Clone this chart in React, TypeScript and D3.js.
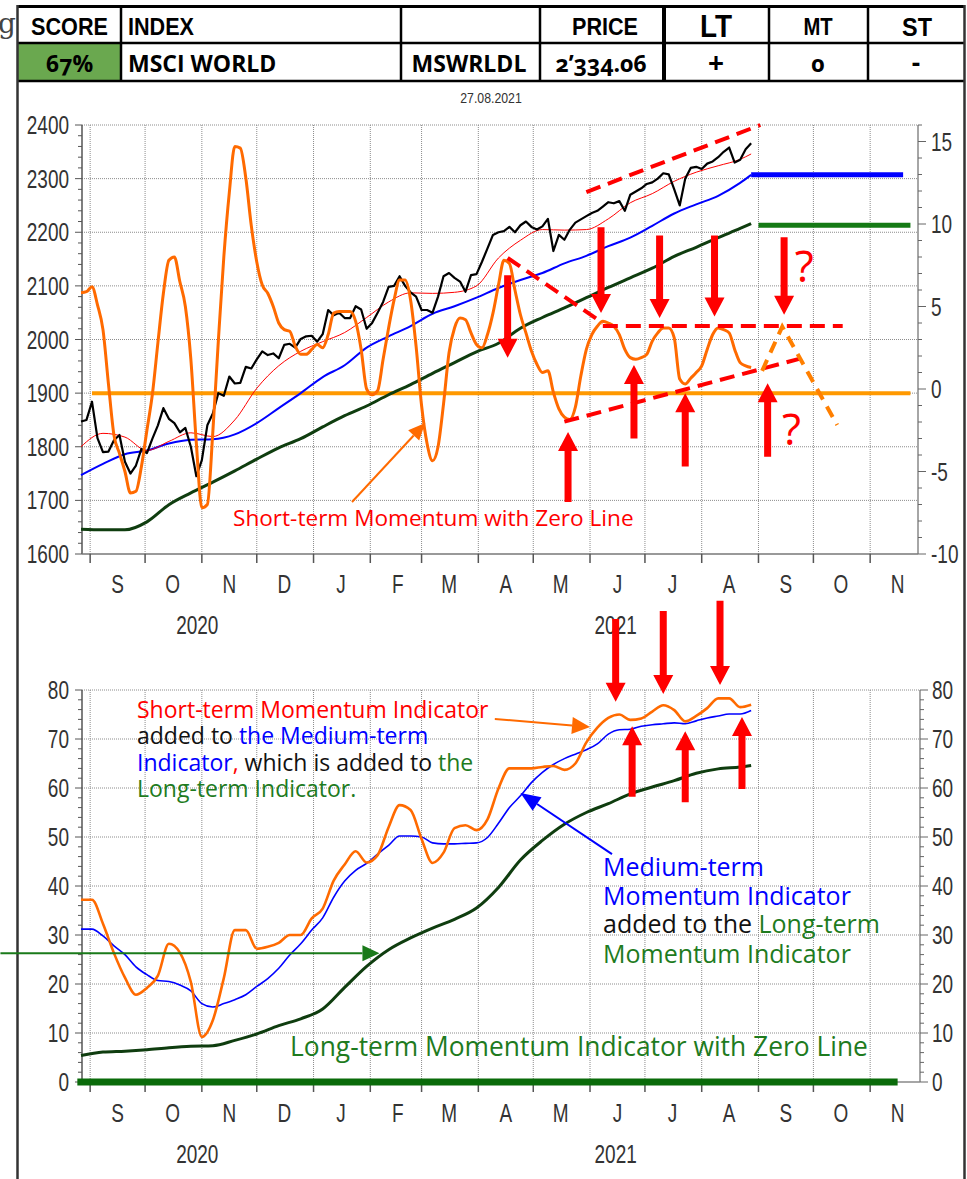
import React from "react";
import * as d3 from "d3";

const parseDay = d3.timeParse("%Y-%m-%d");
const day = (s: string) => parseDay(s) as Date;

const START = "2020-08-27";
const END = "2021-11-27";

// MSCI World price, sampled every 3 days from 27.08.2020
const priceValues = [
  1847, 1850, 1884, 1816, 1790, 1791, 1812, 1822, 1772, 1750,
  1765, 1796, 1788, 1815, 1840, 1872, 1852, 1844, 1827, 1835,
  1800, 1745, 1775, 1840, 1862, 1900, 1895, 1931, 1918, 1919,
  1949, 1946, 1963, 1978, 1971, 1974, 1965, 1990, 1992, 1985,
  2001, 2006, 2007, 1996, 2010, 2055, 2045, 2050, 2040, 2040,
  2062, 2056, 2020, 2031, 2050, 2070, 2098, 2100, 2118, 2100,
  2088, 2080, 2055, 2055, 2050, 2080, 2118, 2124, 2115, 2108,
  2089, 2120, 2122, 2145, 2170, 2195, 2200, 2202, 2210, 2200,
  2213, 2220, 2210, 2205, 2211, 2225, 2165, 2195, 2186, 2205,
  2218, 2224, 2230, 2236, 2240, 2248, 2256, 2254, 2258, 2240,
  2270, 2276, 2282, 2290, 2293, 2300, 2310, 2308, 2280, 2250,
  2300, 2320, 2322, 2318, 2328, 2332, 2340, 2350, 2358, 2330,
  2335, 2355, 2366,
];

// Short-term momentum (right axis), same 3-day sampling
const shortMomentum = [
  5.84, 5.9, 6.2, 5.1, 3.6, 0.3, -2.8, -3.9, -5.0, -6.3,
  -6.2, -4.7, -2.5, -0.3, 2.8, 5.8, 7.8, 8.0, 6.5, 5.0,
  1.8, -3.3, -7.2, -7.0, -2.6, 2.9, 8.0, 11.9, 14.7, 14.6,
  12.8, 9.9, 7.7, 6.3, 5.8, 5.0, 4.0, 3.6, 3.5, 2.6,
  2.1, 2.1, 2.4, 2.7, 2.5, 3.3, 4.6, 4.7, 4.7, 4.7,
  4.1, 2.4, 0.0, -0.35, -0.1, 1.8, 3.7, 5.4, 6.6, 6.6,
  5.4, 2.6, -1.0, -3.3, -4.35, -3.5, -0.9, 2.2, 3.7, 4.3,
  4.2, 3.4, 2.7, 2.5, 3.3, 4.6, 6.3, 7.8, 7.6, 6.0,
  4.5, 3.4, 2.3, 1.5, 1.0, 1.1, -0.2, -1.2, -1.7, -1.85,
  -1.1, 0.8, 2.4, 3.3, 3.8, 4.1, 4.0, 3.8, 3.3, 2.4,
  1.9, 1.8, 1.9, 2.1, 2.9, 3.4, 3.7, 3.7, 3.1, 0.6,
  0.3, 0.65, 1.0, 1.4, 2.4, 3.3, 3.7, 3.6, 3.4, 2.4,
  1.6, 1.4, 1.3,
];

// day offsets from 27.08.2020 for the moving averages / long-term indicator
const maOffsets = [0, 12, 24, 36, 48, 60, 72, 84, 96, 108, 120, 132, 144, 156, 168, 180,
  192, 204, 216, 228, 240, 252, 264, 276, 288, 300, 312, 324, 336, 348, 360, 366];
const maShort = [1800, 1825, 1818, 1793, 1810, 1826, 1819, 1850, 1909, 1951, 1978, 1996, 2013, 2041, 2070, 2087,
  2086, 2088, 2100, 2152, 2185, 2205, 2204, 2205, 2225, 2255, 2272, 2295, 2312, 2324, 2336, 2346];
const maMedium = [1747, 1768, 1786, 1793, 1806, 1813, 1814, 1823, 1844, 1872, 1900, 1930, 1952, 1985, 2006, 2025,
  2048, 2062, 2078, 2096, 2111, 2124, 2142, 2156, 2174, 2190, 2212, 2235, 2252, 2268, 2292, 2307];
const maLong = [1646, 1645, 1645, 1660, 1692, 1714, 1734, 1755, 1777, 1798, 1815, 1837, 1858, 1876, 1897, 1916,
  1937, 1957, 1977, 1993, 2021, 2041, 2059, 2078, 2097, 2115, 2133, 2155, 2172, 2190, 2207, 2216];

// bottom panel: indicators sampled every 6 days
const stackOrange = [
  37.2, 37.2, 32.3, 26.3, 21.3, 17.8, 19.2, 21.7, 28.2, 26.4,
  20.4, 9.2, 12.6, 21.2, 31.0, 31.0, 27.2, 27.6, 28.4, 30.0,
  30.0, 33.4, 35.4, 41.1, 44.4, 47.1, 44.8, 46.3, 52.0, 56.5,
  55.5, 49.6, 44.7, 46.8, 51.8, 52.4, 51.4, 53.6, 59.9, 64.0,
  64.0, 64.0, 64.3, 64.5, 63.7, 65.0, 69.3, 72.3, 74.3, 75.0,
  73.9, 74.2, 75.6, 76.9, 75.9, 73.6, 74.7, 76.3, 78.3, 78.3,
  76.5, 77.0,
];
const stackBlue = [
  31.2, 31.2, 29.8, 27.8, 26.0, 23.5, 21.9, 20.7, 20.5, 19.8,
  18.6, 16.0, 15.3, 16.0, 16.8, 17.8, 19.5, 21.1, 23.2, 25.9,
  28.2, 31.0, 33.5, 37.7, 41.0, 43.2, 44.6, 46.5, 48.3, 50.2,
  50.2, 50.0, 48.8, 48.6, 48.6, 48.7, 48.8, 49.9, 52.8, 56.0,
  58.4, 61.1, 63.2, 64.8, 66.0, 66.9, 67.8, 69.0, 71.0, 71.9,
  72.0, 72.6, 72.9, 73.1, 73.3, 73.1, 73.7, 74.3, 74.7, 75.1,
  75.1, 75.8,
];
const longTermIndicator = [5.4, 6.1, 6.3, 6.6, 7.0, 7.3, 7.4, 8.5, 9.8, 11.5, 12.9, 14.9, 19.3, 23.6, 27.0, 29.4,
  31.4, 33.2, 35.5, 39.7, 45.3, 49.3, 52.6, 55.0, 56.8, 58.8, 60.2, 61.5, 63.0, 63.9, 64.3, 64.6];

const monthLetters = ["S", "O", "N", "D", "J", "F", "M", "A", "M", "J", "J", "A", "S", "O", "N"];
const yearLabels = ["2020", "2021"];
const priceTicks = [1600, 1700, 1800, 1900, 2000, 2100, 2200, 2300, 2400];
const momentumTicks = [-10, -5, 0, 5, 10, 15];
const bottomTicks = [0, 10, 20, 30, 40, 50, 60, 70, 80];

// annotations (date, value from, value to)
const topDownArrows: [string, number, number][] = [
  ["2021-04-17", 6.9, 1.9], ["2021-06-07", 9.8, 4.6], ["2021-07-09", 9.3, 4.3],
  ["2021-08-08", 9.3, 4.4], ["2021-09-15", 9.2, 4.5],
];
const topUpArrows: [string, number, number][] = [
  ["2021-05-20", -6.85, -2.6], ["2021-06-25", -3.0, 1.45], ["2021-07-23", -4.7, -0.25], ["2021-09-06", -4.1, 0.35],
];
const bottomDownArrows: [string, number, number][] = [
  ["2021-06-15", 94.5, 77.6], ["2021-07-11", 96.1, 79.2], ["2021-08-11", 98.2, 81.0],
];
const bottomUpArrows: [string, number, number][] = [
  ["2021-06-24", 58.2, 72.6], ["2021-07-23", 57.1, 71.6], ["2021-08-23", 59.8, 74.5],
];

const SANS = "'Liberation Sans', Arial, sans-serif";
const HUMAN = "'Open Sans', 'Noto Sans', sans-serif";
const RED = "#ff0000";
const BLUE = "#0000ff";
const GREEN_TXT = "#1e7b1e";
const ORANGE = "#ff6a00";

function blockArrow(x: number, yTail: number, yTip: number, shaft = 7, headW = 20, headL = 19) {
  const dir = Math.sign(yTip - yTail);
  const hb = yTip - dir * headL;
  return `M${x - shaft / 2},${yTail}L${x + shaft / 2},${yTail}L${x + shaft / 2},${hb}L${x + headW / 2},${hb}L${x},${yTip}L${x - headW / 2},${hb}L${x - shaft / 2},${hb}Z`;
}

function LineArrow({ x1, y1, x2, y2, color, width = 2, headL = 18, headW = 15 }: any) {
  const a = Math.atan2(y2 - y1, x2 - x1);
  const bx = x2 - headL * Math.cos(a);
  const by = y2 - headL * Math.sin(a);
  const px = (headW / 2) * Math.sin(a);
  const py = (headW / 2) * Math.cos(a);
  return (
    <g>
      <line x1={x1} y1={y1} x2={bx} y2={by} stroke={color} strokeWidth={width} />
      <path d={`M${x2},${y2}L${bx + px},${by - py}L${bx - px},${by + py}Z`} fill={color} />
    </g>
  );
}

// condensed axis text (horizontally compressed sans)
function NText({ x, y, anchor = "middle", size = 25, sx = 0.76, dy = "0", fill = "#333", children }: any) {
  return (
    <text
      transform={`translate(${x},${y}) scale(${sx},1)`}
      dy={dy}
      textAnchor={anchor}
      fontFamily={SANS}
      fontSize={size}
      fill={fill}
    >
      {children}
    </text>
  );
}

export default function App() {
  const start = day(START);
  const end = day(END);
  const x = d3.scaleTime().domain([start, end]).range([81, 81 + 457 * 1.831]);
  const yP = d3.scaleLinear().domain([1600, 2400]).range([554, 125]);
  const yM = d3.scaleLinear().domain([-10, 16]).range([554, 125]);
  const yB = d3.scaleLinear().domain([0, 80]).range([1082, 690]);

  const TL = 82, TR = 918, TT = 125, TB = 554;
  const BL = 82, BR = 920, BT = 690, BB = 1082;

  const priceDates = priceValues.map((_, i) => d3.timeDay.offset(start, 3 * i));
  const maDates = maOffsets.map((o) => d3.timeDay.offset(start, o));
  const bDates = stackOrange.map((_, i) => d3.timeDay.offset(start, 6 * i));

  const lineP = d3.line<[Date, number]>().x((d) => x(d[0])).y((d) => yP(d[1]));
  const lineMA = d3.line<[Date, number]>().x((d) => x(d[0])).y((d) => yP(d[1])).curve(d3.curveMonotoneX);
  const lineM = d3.line<[Date, number]>().x((d) => x(d[0])).y((d) => yM(d[1])).curve(d3.curveMonotoneX);
  const lineB = d3.line<[Date, number]>().x((d) => x(d[0])).y((d) => yB(d[1])).curve(d3.curveMonotoneX);
  const lineMlin = d3.line<[Date, number]>().x((d) => x(d[0])).y((d) => yM(d[1]));

  const zip = (ds: Date[], vs: number[]) => vs.map((v, i) => [ds[i], v] as [Date, number]);

  const months = d3.timeMonth.range(day("2020-09-01"), day("2021-12-01"));
  const monthMid = months.map((m) => x(d3.timeDay.offset(m, 15)));
  const yearMid = [
    (x(start) + x(day("2021-01-01"))) / 2,
    (x(day("2021-01-01")) + x(end)) / 2,
  ];

  const grid = { stroke: "#8c8c8c", strokeWidth: 1, strokeDasharray: "1,1" };

  // header columns
  const cols = [18, 121, 401, 540, 664, 769, 868, 964];

  const topDash = { stroke: RED, strokeWidth: 4, strokeDasharray: "15,8", fill: "none" };

  return (
    <svg width={967} height={1179} style={{ position: "absolute", left: 0, top: 0, background: "#fff" }}>
      <rect x={0} y={0} width={967} height={1179} fill="#fff" />
      {/* cut-off letter at far left */}
      <text x={-2} y={33} fontFamily="'DejaVu Serif', serif" fontSize={28} fill="#444">g</text>

      {/* header table */}
      <rect x={cols[0]} y={43} width={cols[1] - cols[0]} height={38} fill="#6aa84f" />
      <line x1={cols[0]} x2={cols[7]} y1={6.5} y2={6.5} stroke="#000" strokeWidth={3} />
      <line x1={cols[0]} x2={cols[7]} y1={43} y2={43} stroke="#000" strokeWidth={2.5} />
      <line x1={cols[0]} x2={cols[7]} y1={81} y2={81} stroke="#000" strokeWidth={2.5} />
      {cols.slice(1, 7).map((c, i) => (
        <line key={i} x1={c} x2={c} y1={5} y2={82} stroke="#000" strokeWidth={i === 3 ? 4 : 2.5} />
      ))}
      <line x1={17.5} x2={17.5} y1={5} y2={1179} stroke="#333" strokeWidth={2.5} />
      <line x1={964.5} x2={964.5} y1={5} y2={1179} stroke="#333" strokeWidth={2.5} />
      <g fontFamily={SANS} fontWeight="bold" fill="#000">
        <NText x={69.5} y={35} size={24} sx={0.9} fill="#000">SCORE</NText>
        <NText x={128} y={35} size={24} sx={0.9} anchor="start" fill="#000">INDEX</NText>
        <NText x={605} y={35} size={24} sx={0.9} fill="#000">PRICE</NText>
        <NText x={716} y={37} size={31} sx={0.9} fill="#000">LT</NText>
        <NText x={818} y={35} size={23} sx={0.88} fill="#000">MT</NText>
        <NText x={917} y={36} size={26} sx={0.9} fill="#000">ST</NText>
      </g>
      <g fontFamily={HUMAN} fontWeight="bold" fill="#000" style={{ fontVariantNumeric: "oldstyle-nums" }}>
        <text x={69.5} y={72} fontSize={23} textAnchor="middle">67%</text>
        <text x={128} y={72} fontSize={23}>MSCI WORLD</text>
        <text x={469} y={72} fontSize={23} textAnchor="middle">MSWRLDL</text>
        <text x={601} y={72} fontSize={23} textAnchor="middle">2’334.06</text>
        <text x={716} y={73} fontSize={28} textAnchor="middle">+</text>
        <text x={818} y={72} fontSize={23} textAnchor="middle">0</text>
        <text x={916} y={72} fontSize={26} textAnchor="middle">-</text>
      </g>
      <NText x={491} y={103} size={15} sx={0.82}>27.08.2021</NText>

      {/* ===== TOP PANEL ===== */}
      {priceTicks.slice(1).map((t) => (
        <line key={t} x1={TL} x2={TR} y1={yP(t)} y2={yP(t)} {...grid} />
      ))}
      {months.map((m, i) => (
        <line key={i} x1={x(m)} x2={x(m)} y1={TT} y2={TB} {...grid} />
      ))}
      <line x1={TL} x2={TL} y1={TT} y2={TB} stroke="#555" strokeWidth={1.5} />
      <line x1={TR} x2={TR} y1={TT} y2={TB} stroke="#888" strokeWidth={1.5} />
      <line x1={TL} x2={TR} y1={TB} y2={TB} stroke="#777" strokeWidth={1.5} />
      {d3.range(1600, 2401, 20).map((t) => (
        <line key={t} x1={t % 100 === 0 ? TL - 7 : TL - 4} x2={TL} y1={yP(t)} y2={yP(t)} stroke="#555" strokeWidth={1} />
      ))}
      {d3.range(-10, 16.01, 1).map((t) => (
        <line key={t} x1={TR} x2={t % 5 === 0 ? TR + 8 : TR + 4} y1={yM(t)} y2={yM(t)} stroke="#666" strokeWidth={1} />
      ))}
      {months.map((m, i) => (
        <line key={i} x1={x(m)} x2={x(m)} y1={TB} y2={TB + 9} stroke="#555" strokeWidth={1.5} />
      ))}
      {priceTicks.map((t) => (
        <NText key={t} x={69} y={yP(t)} dy="0.36em" anchor="end">{t}</NText>
      ))}
      {momentumTicks.map((t) => (
        <NText key={t} x={931} y={yM(t)} dy="0.36em" anchor="start">{t}</NText>
      ))}
      {monthLetters.map((l, i) => (
        <NText key={i} x={monthMid[i]} y={593}>{l}</NText>
      ))}
      {yearLabels.map((l, i) => (
        <NText key={i} x={yearMid[i]} y={634}>{l}</NText>
      ))}

      {/* zero line */}
      <line x1={x(day("2020-09-02"))} x2={x(day("2021-11-23"))} y1={yP(1900)} y2={yP(1900)} stroke="#ff9900" strokeWidth={4} />
      {/* lines */}
      <path d={lineMA(zip(maDates, maLong)) || ""} fill="none" stroke="#0f3d0f" strokeWidth={3} />
      <path d={lineMA(zip(maDates, maMedium)) || ""} fill="none" stroke={BLUE} strokeWidth={2} />
      <path d={lineMA(zip(maDates, maShort)) || ""} fill="none" stroke={RED} strokeWidth={1} />
      <path d={lineP(zip(priceDates, priceValues)) || ""} fill="none" stroke="#000" strokeWidth={2.2} strokeLinejoin="round" />
      <path d={lineM(zip(priceDates, shortMomentum)) || ""} fill="none" stroke={ORANGE} strokeWidth={3} strokeLinejoin="round" />
      {/* extensions */}
      <line x1={x(day("2021-08-28"))} x2={x(day("2021-11-19"))} y1={yP(2307)} y2={yP(2307)} stroke={BLUE} strokeWidth={5} />
      <line x1={x(day("2021-09-01"))} x2={x(day("2021-11-23"))} y1={yP(2213)} y2={yP(2213)} stroke="#157a15" strokeWidth={5} />

      {/* red dashed trend lines */}
      <line x1={x(day("2021-05-30"))} y1={yP(2275)} x2={x(day("2021-09-02"))} y2={yP(2400)} {...topDash} />
      <line x1={x(day("2021-04-17"))} y1={yM(7.94)} x2={x(day("2021-06-08"))} y2={yM(4.0)} {...topDash} />
      <line x1={x(day("2021-06-08"))} y1={yM(3.82)} x2={x(day("2021-10-17"))} y2={yM(3.82)} {...topDash} />
      <line x1={x(day("2021-05-18"))} y1={yM(-1.98)} x2={x(day("2021-09-25"))} y2={yM(1.88)} {...topDash} />
      <path
        d={lineMlin([[day("2021-09-03"), 1.1], [day("2021-09-14"), 3.78], [day("2021-10-14"), -2.18]]) || ""}
        fill="none" stroke="#ff7f00" strokeWidth={4} strokeDasharray="12,8"
      />
      {topDownArrows.map(([d, a, b], i) => (
        <path key={"d" + i} d={blockArrow(x(day(d)), yM(a), yM(b))} fill={RED} />
      ))}
      {topUpArrows.map(([d, a, b], i) => (
        <path key={"u" + i} d={blockArrow(x(day(d)), yM(a), yM(b))} fill={RED} />
      ))}
      <text x={x(day("2021-09-26"))} y={yM(6.48)} fontFamily={HUMAN} fontSize={44} fill={RED} textAnchor="middle">?</text>
      <text x={x(day("2021-09-19"))} y={yM(-3.39)} fontFamily={HUMAN} fontSize={44} fill={RED} textAnchor="middle">?</text>
      <LineArrow
        x1={x(day("2021-01-22"))} y1={yM(-6.85)} x2={x(day("2021-03-03"))} y2={yM(-2.06)}
        color={ORANGE} width={2} headL={17} headW={15}
      />
      <text x={233} y={526} fontFamily={HUMAN} fontSize={22.6} fill={RED}>Short-term Momentum with Zero Line</text>

      {/* ===== BOTTOM PANEL ===== */}
      {bottomTicks.slice(1).map((t) => (
        <line key={t} x1={BL} x2={BR} y1={yB(t)} y2={yB(t)} {...grid} />
      ))}
      {months.map((m, i) => (
        <line key={i} x1={x(m)} x2={x(m)} y1={BT} y2={BB} {...grid} />
      ))}
      <line x1={BL} x2={BL} y1={BT} y2={BB} stroke="#555" strokeWidth={1.5} />
      <line x1={BR} x2={BR} y1={BT} y2={BB} stroke="#888" strokeWidth={1.5} />
      <line x1={BL} x2={BR} y1={BB} y2={BB} stroke="#888" strokeWidth={1.5} />
      {d3.range(0, 81, 2).map((t) => (
        <g key={t}>
          <line x1={t % 10 === 0 ? BL - 7 : BL - 4} x2={BL} y1={yB(t)} y2={yB(t)} stroke="#555" strokeWidth={1} />
          <line x1={BR} x2={t % 10 === 0 ? BR + 8 : BR + 4} y1={yB(t)} y2={yB(t)} stroke="#666" strokeWidth={1} />
        </g>
      ))}
      {months.map((m, i) => (
        <line key={i} x1={x(m)} x2={x(m)} y1={BB} y2={BB + 10} stroke="#555" strokeWidth={1.5} />
      ))}
      {bottomTicks.map((t) => (
        <NText key={t} x={69} y={yB(t)} dy="0.36em" anchor="end">{t}</NText>
      ))}
      {bottomTicks.map((t) => (
        <NText key={t} x={932} y={yB(t)} dy="0.36em" anchor="start">{t}</NText>
      ))}
      {monthLetters.map((l, i) => (
        <NText key={i} x={monthMid[i]} y={1122}>{l}</NText>
      ))}
      {yearLabels.map((l, i) => (
        <NText key={i} x={yearMid[i]} y={1163}>{l}</NText>
      ))}

      <line x1={x(day("2020-08-25"))} x2={x(day("2021-11-16"))} y1={yB(0)} y2={yB(0)} stroke="#0a6b0a" strokeWidth={7} />
      <path d={lineB(zip(maDates, longTermIndicator)) || ""} fill="none" stroke="#0f3d0f" strokeWidth={3} />
      <path d={lineB(zip(bDates, stackBlue)) || ""} fill="none" stroke={BLUE} strokeWidth={1.6} />
      <path d={lineB(zip(bDates, stackOrange)) || ""} fill="none" stroke={ORANGE} strokeWidth={2.6} />

      {bottomDownArrows.map(([d, a, b], i) => (
        <path key={"bd" + i} d={blockArrow(x(day(d)), yB(a), yB(b))} fill={RED} />
      ))}
      {bottomUpArrows.map(([d, a, b], i) => (
        <path key={"bu" + i} d={blockArrow(x(day(d)), yB(a), yB(b))} fill={RED} />
      ))}
      <LineArrow
        x1={x(day("2021-04-10"))} y1={yB(74.1)} x2={x(day("2021-06-01"))} y2={yB(72.45)}
        color={ORANGE} width={2} headL={18} headW={17}
      />
      <LineArrow
        x1={x(day("2021-06-13"))} y1={yB(46.5)} x2={x(day("2021-04-24"))} y2={yB(59.0)}
        color={BLUE} width={2} headL={20} headW={16}
      />
      <LineArrow
        x1={x(day("2020-07-14"))} y1={yB(26.3)} x2={x(day("2021-02-06"))} y2={yB(26.3)}
        color="#1a7a1a" width={2} headL={17} headW={16}
      />

      <g fontFamily={HUMAN} fontSize={23}>
        <text x={137} y={718} fill={RED}>Short-term Momentum Indicator</text>
        <text x={137} y={744}>
          <tspan fill="#111">added to </tspan>
          <tspan fill={BLUE}>the Medium-term</tspan>
        </text>
        <text x={137} y={771}>
          <tspan fill={BLUE}>Indicator</tspan>
          <tspan fill={RED}>,</tspan>
          <tspan fill="#111"> which is added to </tspan>
          <tspan fill={GREEN_TXT}>the</tspan>
        </text>
        <text x={137} y={797} fill={GREEN_TXT}>Long-term Indicator.</text>
      </g>
      <g fontFamily={HUMAN} fontSize={25}>
        <text x={603} y={876} fill={BLUE}>Medium-term</text>
        <text x={603} y={905} fill={BLUE}>Momentum Indicator</text>
        <text x={603} y={933}>
          <tspan fill="#111">added to the </tspan>
          <tspan fill={GREEN_TXT}>Long-term</tspan>
        </text>
        <text x={603} y={963} fill={GREEN_TXT}>Momentum Indicator</text>
      </g>
      <text x={290} y={1056} fontFamily={HUMAN} fontSize={26.4} fill={GREEN_TXT}>
        Long-term Momentum Indicator with Zero Line
      </text>
    </svg>
  );
}
